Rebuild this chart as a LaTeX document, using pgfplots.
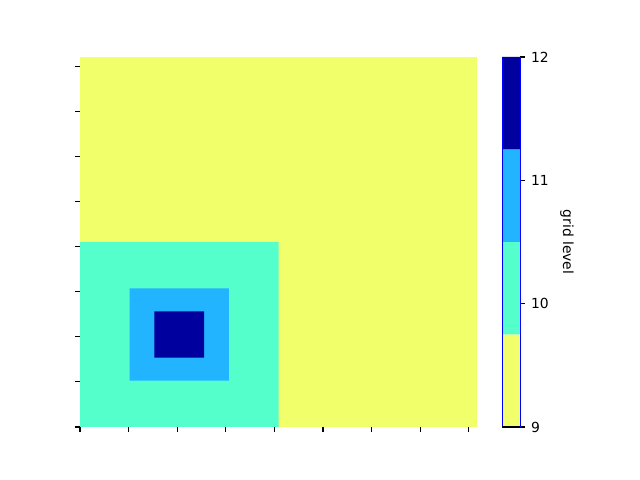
\documentclass[border=0pt]{standalone}
\usepackage{pgfplots}
\pgfplotsset{compat=1.18}
\usepackage{fontspec}
\setmainfont{DejaVu Sans}
\definecolor{cyel}{HTML}{F0FF6A}
\definecolor{cteal}{HTML}{55FFCC}
\definecolor{cblue}{HTML}{22B4FF}
\definecolor{cdark}{HTML}{00009E}
\begin{document}
\fontsize{10bp}{12bp}\selectfont
\begin{tikzpicture}
\useasboundingbox (0in,0in) rectangle (6.4in,4.8in);
\begin{axis}[
  at={(0.80in,0.53in)}, anchor=south west,
  width=3.97in, height=3.70in, scale only axis,
  xmin=0, xmax=8.17, ymin=0, ymax=8.206,
  xtick={0,1,...,8}, ytick={0,1,...,8},
  xticklabels={}, yticklabels={},
  xtick pos=bottom, ytick pos=left,
  tick align=outside,
  major tick length=3.5bp,
  every tick/.style={black, line width=0.8bp},
  axis line style={draw=none},
  axis on top,
]
\addplot[fill=cyel, draw=none] coordinates {(0,0) (8.17,0) (8.17,8.206) (0,8.206) (0,0)};
\addplot[fill=cteal, draw=none] coordinates {(0,0) (4.085,0) (4.085,4.103) (0,4.103) (0,0)};
\addplot[fill=cblue, draw=none] coordinates {(1.021,1.026) (3.064,1.026) (3.064,3.077) (1.021,3.077) (1.021,1.026)};
\addplot[fill=cdark, draw=none] coordinates {(1.532,1.539) (2.553,1.539) (2.553,2.564) (1.532,2.564) (1.532,1.539)};
\end{axis}
\begin{axis}[
  at={(5.02in,0.53in)}, anchor=south west,
  width=0.18in, height=3.70in, scale only axis,
  xmin=0, xmax=1, ymin=9, ymax=12,
  xtick=\empty, ytick={9,10,11,12},
  yticklabel pos=right, ytick pos=right,
  tick align=outside,
  major tick length=3.5bp,
  every tick/.style={black, line width=0.8bp},
  axis line style={draw=none},
  /pgf/number format/assume math mode=true,
  yticklabel style={font=\fontsize{10bp}{12bp}\selectfont, xshift=1bp},
  clip=false,
]
\addplot[fill=cyel, draw=none] coordinates {(0,9) (1,9) (1,9.75) (0,9.75) (0,9)};
\addplot[fill=cteal, draw=none] coordinates {(0,9.75) (1,9.75) (1,10.5) (0,10.5) (0,9.75)};
\addplot[fill=cblue, draw=none] coordinates {(0,10.5) (1,10.5) (1,11.25) (0,11.25) (0,10.5)};
\addplot[fill=cdark, draw=none] coordinates {(0,11.25) (1,11.25) (1,12) (0,12) (0,11.25)};
\addplot[blue, line width=0.6bp] coordinates {(0,9) (0,12)};
\addplot[blue, line width=0.6bp] coordinates {(1,9) (1,12)};
\addplot[black, line width=0.8bp] coordinates {(0,9) (1,9)};
\node[rotate=-90, anchor=center, font=\fontsize{10bp}{12bp}\selectfont] at ([xshift=0.65in]rel axis cs:0,0.5) {grid level};
\end{axis}
\end{tikzpicture}
\end{document}
